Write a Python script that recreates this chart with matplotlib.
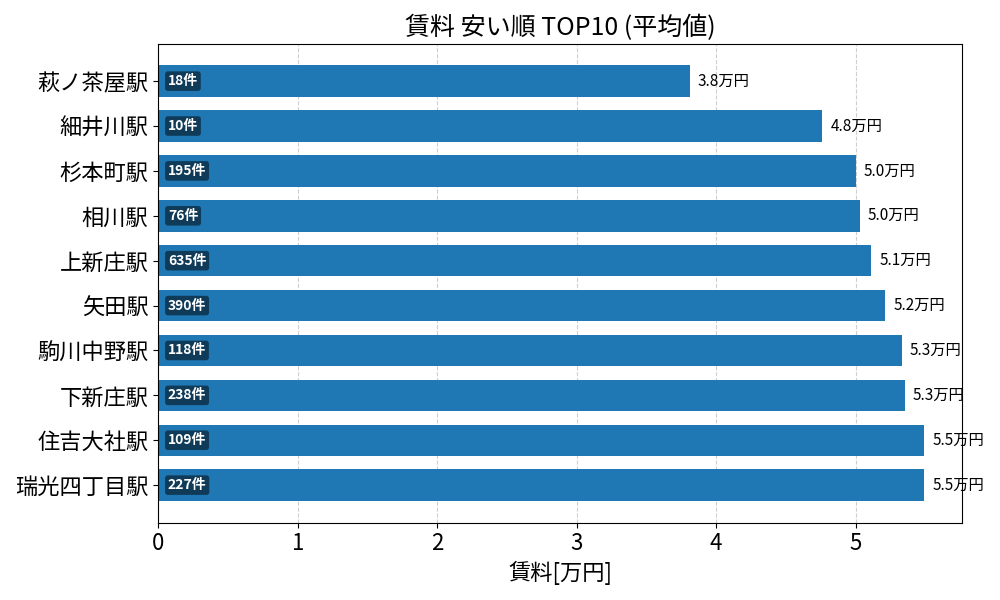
import numpy as np
import matplotlib
matplotlib.use('Agg')
import matplotlib.pyplot as plt

plt.rcParams['font.family'] = ['Noto Sans CJK JP', 'DejaVu Sans']

stations = ['萩ノ茶屋駅', '細井川駅', '杉本町駅', '相川駅', '上新庄駅',
            '矢田駅', '駒川中野駅', '下新庄駅', '住吉大社駅', '瑞光四丁目駅']
rent_avg = [3.81, 4.76, 5.00, 5.03, 5.11, 5.21, 5.33, 5.35, 5.49, 5.49]
counts = [18, 10, 195, 76, 635, 390, 118, 238, 109, 227]

fig, ax = plt.subplots(figsize=(10, 6), dpi=100)
y = np.arange(len(stations))
ax.barh(y, rent_avg, height=0.7, color='#1f77b4', zorder=2)
ax.set_yticks(y)
ax.set_yticklabels(stations, fontsize=16)
ax.invert_yaxis()

xmax = max(rent_avg) * 1.05
ax.set_xlim(0, xmax)

for i, (v, n) in enumerate(zip(rent_avg, counts)):
    ax.text(v + xmax * 0.01, i, f'{v:.1f}万円', va='center', ha='left', fontsize=11)
    ax.text(xmax * 0.012, i, f'{n}件', va='center', ha='left', fontsize=10,
            color='white', fontweight='bold',
            bbox=dict(boxstyle='round,pad=0.2', facecolor='black', alpha=0.5, edgecolor='none'))

ax.set_title('賃料 安い順 TOP10 (平均値)', fontsize=18)
ax.set_xlabel('賃料[万円]', fontsize=16)
ax.tick_params(axis='x', labelsize=16)
ax.grid(axis='x', linestyle='--', alpha=0.6, zorder=0)
ax.set_axisbelow(True)

plt.tight_layout()
plt.savefig('out.png')
